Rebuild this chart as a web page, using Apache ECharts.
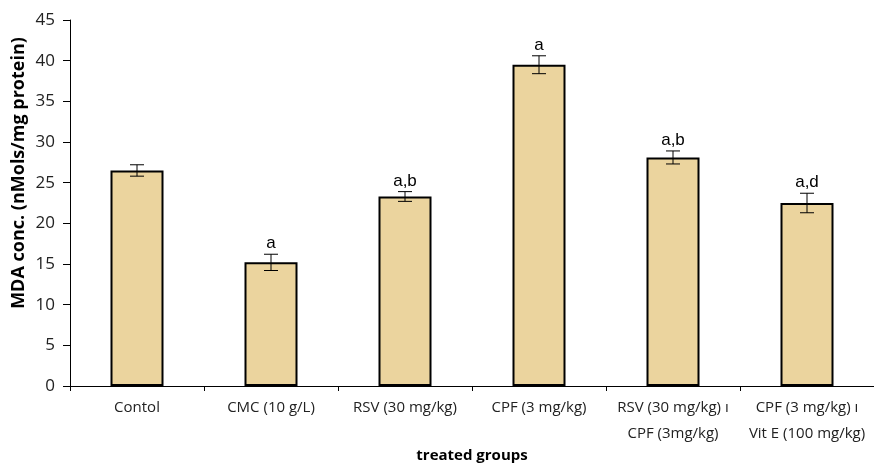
<!DOCTYPE html>
<html>
<head>
<meta charset="utf-8">
<script src="https://cdn.jsdelivr.net/npm/echarts@6/dist/echarts.min.js"></script>
<style>html,body{margin:0;padding:0;background:#fff}#c{width:874px;height:463px}</style>
</head>
<body>
<div id="c"></div>
<script>
const categories = ['Contol', 'CMC (10 g/L)', 'RSV (30 mg/kg)', 'CPF (3 mg/kg)', 'RSV (30 mg/kg) ı\nCPF (3mg/kg)', 'CPF (3 mg/kg) ı\nVit E (100 mg/kg)'];
const values = [26.5, 15.2, 23.3, 39.5, 28.1, 22.5];
const errors = [0.7, 1.0, 0.6, 1.1, 0.8, 1.2];
const letters = ['', 'a', 'a,b', 'a', 'a,b', 'a,d'];
const yTicks = { min: 0, max: 45, interval: 5 };

const chart = echarts.init(document.getElementById('c'));
chart.setOption({
  animation: false,
  grid: { left: 70, right: 0, top: 20, bottom: 77, outerBoundsMode: 'none', containLabel: false },
  xAxis: {
    type: 'category',
    data: categories,
    name: 'treated groups',
    nameLocation: 'middle',
    nameGap: 62,
    nameMoveOverlap: false,
    nameTextStyle: { fontFamily: 'Open Sans', fontWeight: 'bold', fontSize: 15, color: '#000' },
    axisLine: { lineStyle: { color: '#000', width: 1 } },
    axisTick: { show: true, length: 5, lineStyle: { color: '#000' } },
    axisLabel: { fontFamily: 'Open Sans', fontSize: 15, color: '#222', margin: 9, lineHeight: 26, interval: 0 }
  },
  yAxis: {
    type: 'value',
    min: yTicks.min, max: yTicks.max, interval: yTicks.interval,
    name: 'MDA conc. (nMols/mg protein)',
    nameLocation: 'middle',
    nameGap: 42,
    nameMoveOverlap: false,
    nameTextStyle: { fontFamily: 'Open Sans', fontWeight: 'bold', fontSize: 18, color: '#000', padding: [0, 0, 0, 60] },
    axisLine: { show: true, lineStyle: { color: '#000', width: 1 } },
    axisTick: { show: true, length: 7, lineStyle: { color: '#000' } },
    splitLine: { show: false },
    axisLabel: { fontFamily: 'Open Sans', fontSize: 17, color: '#222', margin: 15 }
  },
  series: [
    {
      type: 'bar',
      data: values,
      barWidth: 53,
      itemStyle: { color: '#EBD49E', borderColor: '#000', borderWidth: 2 }
    },
    {
      type: 'custom',
      data: values.map((v, i) => [i, v, errors[i]]),
      renderItem: function (params, api) {
        const x = api.value(0), v = api.value(1), e = api.value(2);
        const lab = letters[params.dataIndex];
        const top = api.coord([x, v + e]);
        const bot = api.coord([x, v - e]);
        const hw = 7;
        const st = { stroke: '#000', lineWidth: 1 };
        const children = [
          { type: 'line', shape: { x1: top[0], y1: top[1], x2: bot[0], y2: bot[1] }, style: st },
          { type: 'line', shape: { x1: top[0] - hw, y1: top[1], x2: top[0] + hw, y2: top[1] }, style: st },
          { type: 'line', shape: { x1: bot[0] - hw, y1: bot[1], x2: bot[0] + hw, y2: bot[1] }, style: st }
        ];
        if (lab) {
          children.push({ type: 'text', style: { text: lab, x: top[0], y: top[1] - 2, textAlign: 'center', textVerticalAlign: 'bottom', font: '17px "Liberation Sans"', fill: '#000' } });
        }
        return { type: 'group', children: children };
      },
      z: 10
    }
  ]
});
</script>
</body>
</html>
